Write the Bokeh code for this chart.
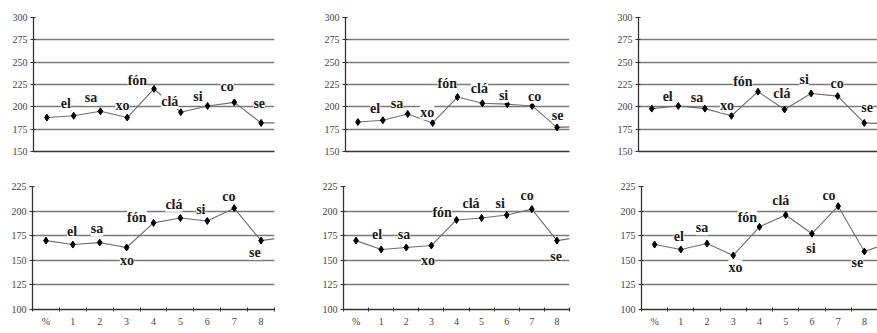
from bokeh.plotting import figure
from bokeh.layouts import column, row
from bokeh.models import Range1d, FixedTicker, ColumnDataSource, LabelSet
from bokeh.embed import file_html
from bokeh.resources import INLINE

# ---- data ----
categories = ["%", "1", "2", "3", "4", "5", "6", "7", "8"]
syllables = ["el", "sa", "xo", "fón", "clá", "si", "co", "se"]

# values per position (last value continues beyond the visible axis)
panel1_values = [188, 190, 195, 188, 220, 194, 201, 205, 182, 182]
panel2_values = [183, 185, 192, 182, 211, 204, 203, 201, 177, 178]
panel3_values = [198, 201, 198, 190, 217, 197, 215, 212, 182, 181]
panel4_values = [170, 166, 168, 163, 188, 193, 190, 203, 170, 174]
panel5_values = [170, 161, 163, 165, 191, 193, 196, 202, 170, 174]
panel6_values = [166, 161, 167, 155, 184, 196, 177, 205, 159, 168]

top_ticks = [150, 175, 200, 225, 250, 275, 300]
bottom_ticks = [100, 125, 150, 175, 200, 225]

# syllable label placements (category position, value)
panel1_lab_x = [0.71, 1.65, 2.82, 3.38, 4.59, 5.64, 6.73, 7.93]
panel1_lab_y = [204, 210, 201, 229, 206, 212, 223, 204]
panel2_lab_x = [0.69, 1.57, 2.78, 3.59, 4.88, 5.85, 7.10, 8.02]
panel2_lab_y = [198, 204, 194, 226, 220, 213, 212, 190]
panel3_lab_x = [0.60, 1.70, 2.83, 3.43, 4.90, 5.74, 6.98, 8.11]
panel3_lab_y = [212, 210, 202, 228, 215, 231, 226, 199]
panel4_lab_x = [0.97, 1.90, 3.01, 3.38, 4.76, 5.76, 6.80, 7.77]
panel4_lab_y = [179, 182, 150, 194, 207, 202, 215, 158]
panel5_lab_x = [0.84, 1.91, 2.87, 3.43, 4.58, 5.74, 6.81, 7.97]
panel5_lab_y = [176, 176, 150, 199, 208, 208, 216, 154]
panel6_lab_x = [0.92, 1.81, 3.08, 3.54, 4.81, 5.96, 6.65, 7.73]
panel6_lab_y = [174, 183, 143, 194, 211, 162, 216, 148]

TICK_FONT = "Liberation Sans Narrow"
LABEL_FONT = "Liberation Sans"


def make_panel(values, lab_x, lab_y, yticks, show_x, width, height, bl, br, bt, bb):
    p = figure(width=width, height=height, output_backend="svg", toolbar_location=None,
               x_range=Range1d(-0.5, 8.5), y_range=Range1d(yticks[0], yticks[-1]),
               min_border_left=bl, min_border_right=br, min_border_top=bt, min_border_bottom=bb,
               title=None)
    p.outline_line_color = None
    p.background_fill_color = "white"
    p.border_fill_color = "white"
    p.xgrid.visible = False
    p.ygrid.grid_line_color = "#7a7a7a"
    p.ygrid.grid_line_width = 1.3

    ya = p.yaxis[0]
    ya.ticker = FixedTicker(ticks=yticks)
    ya.axis_line_color = "#333333"
    ya.axis_line_width = 1.3
    ya.major_tick_line_color = "#333333"
    ya.major_tick_in = 2
    ya.major_tick_out = 3
    ya.minor_tick_line_color = None
    ya.major_label_standoff = 3
    ya.major_label_text_font = TICK_FONT
    ya.major_label_text_font_size = "10px"
    ya.major_label_text_color = "#444444"

    xa = p.xaxis[0]
    xa.axis_line_color = "#333333"
    xa.axis_line_width = 1.3
    if show_x:
        xa.ticker = FixedTicker(ticks=list(range(len(categories))),
                                minor_ticks=[i - 0.5 for i in range(len(categories) + 1)])
        xa.major_label_overrides = {i: c for i, c in enumerate(categories)}
        xa.major_tick_line_color = None
        xa.major_tick_in = 0
        xa.major_tick_out = 0
        xa.minor_tick_line_color = "#333333"
        xa.minor_tick_in = 2
        xa.minor_tick_out = 2
        xa.major_label_standoff = 4
        xa.major_label_text_font = TICK_FONT
        xa.major_label_text_font_size = "10px"
        xa.major_label_text_color = "#444444"
    else:
        xa.ticker = FixedTicker(ticks=[])
        xa.major_tick_line_color = None
        xa.minor_tick_line_color = None
        xa.major_label_text_font_size = "0px"
        xa.major_label_standoff = 0

    xs = list(range(len(values)))
    p.line(x=xs, y=values, line_color="#6e6e6e", line_width=1.1)
    p.scatter(x=xs, y=values, marker="diamond", size=7, fill_color="black", line_color="black")

    src = ColumnDataSource(dict(x=lab_x, y=lab_y, t=syllables))
    labels = LabelSet(x="x", y="y", text="t", source=src,
                      text_align="center", text_baseline="middle",
                      text_font=LABEL_FONT, text_font_size="14px", text_font_style="bold",
                      text_color="#1a1a1a",
                      background_fill_color="white")
    p.add_layout(labels)
    return p


f1 = make_panel(panel1_values, panel1_lab_x, panel1_lab_y, top_ticks, False, 290, 165, 33, 16, 17, 12)
f2 = make_panel(panel2_values, panel2_lab_x, panel2_lab_y, top_ticks, False, 290, 165, 55, 11, 16, 14)
f3 = make_panel(panel3_values, panel3_lab_x, panel3_lab_y, top_ticks, False, 297, 165, 58, 0, 15, 10)
f4 = make_panel(panel4_values, panel4_lab_x, panel4_lab_y, bottom_ticks, True, 290, 168, 32, 16, 21, 22)
f5 = make_panel(panel5_values, panel5_lab_x, panel5_lab_y, bottom_ticks, True, 290, 168, 53, 11, 21, 21)
f6 = make_panel(panel6_values, panel6_lab_x, panel6_lab_y, bottom_ticks, True, 297, 168, 61, 0, 20, 24)

layout = column(row(f1, f2, f3, spacing=0), row(f4, f5, f6, spacing=0), spacing=0)

open("out.html", "w").write(file_html(layout, INLINE))
